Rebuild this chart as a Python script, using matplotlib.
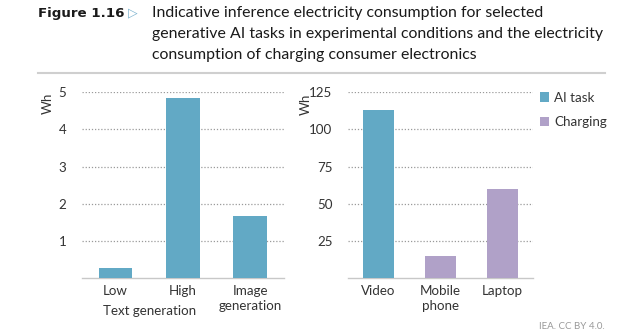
import matplotlib
matplotlib.use("Agg")
import matplotlib.pyplot as plt
from matplotlib.patches import Patch

# ---- data ----
left_categories = ["Low", "High", "Image\ngeneration"]
left_values = [0.28, 4.85, 1.68]
left_series = ["AI task", "AI task", "AI task"]
left_yticks = [1, 2, 3, 4, 5]

right_categories = ["Video", "Mobile\nphone", "Laptop"]
right_values = [113, 15, 60]
right_series = ["AI task", "Charging", "Charging"]
right_yticks = [25, 50, 75, 100, 125]

series_names = ["AI task", "Charging"]
group_label = "Text generation"
unit = "Wh"

COLORS = {"AI task": "#62A9C5", "Charging": "#B0A1C8"}
TEXT = "#333333"
GRID = "#9a9a9a"
FS = 9.6

plt.rcParams["font.family"] = ["Lato", "DejaVu Sans"]

fig = plt.figure(figsize=(6.38, 3.36), dpi=100)
W, H = 638, 336

def ax_rect(x0, x1, ytop, ybot):
    return [x0 / W, 1 - ybot / H, (x1 - x0) / W, (ybot - ytop) / H]

axL = fig.add_axes(ax_rect(81.7, 284, 92, 278.3))
axR = fig.add_axes(ax_rect(347.7, 533.3, 92, 278.3))

def style(ax, cats, vals, series, yticks, ymax):
    x = list(range(len(cats)))
    ax.bar(x, vals, width=0.5, color=[COLORS[s] for s in series], zorder=3)
    ax.set_xlim(-0.5, len(cats) - 0.5)
    ax.set_ylim(0, ymax)
    ax.set_yticks(yticks)
    ax.set_xticks(x)
    ax.set_xticklabels(cats, fontsize=FS, color=TEXT, linespacing=1.3)
    ax.tick_params(axis="y", length=0, pad=11, labelsize=FS, labelcolor=TEXT)
    ax.tick_params(axis="x", length=0, pad=5)
    for sp in ["left", "right", "top"]:
        ax.spines[sp].set_visible(False)
    ax.spines["bottom"].set_color("#c8c8c8")
    ax.spines["bottom"].set_linewidth(1.0)
    ax.yaxis.grid(True, linestyle=(0, (1, 1.5)), color=GRID, linewidth=0.9, zorder=0)
    ax.set_axisbelow(True)

style(axL, left_categories, left_values, left_series, left_yticks, 5)
style(axR, right_categories, right_values, right_series, right_yticks, 125)

# group label under Low/High
axL.text(0.5, -0.178, group_label, transform=axL.get_xaxis_transform(),
         ha="center", va="center", fontsize=FS, color=TEXT)

# unit labels
fig.text(48 / W, 1 - 103 / H, unit, rotation=90, ha="center", va="center",
         fontsize=FS, color=TEXT)
fig.text(306 / W, 1 - 104 / H, unit, rotation=90, ha="center", va="center",
         fontsize=FS, color=TEXT)

# legend
handles = [Patch(facecolor=COLORS[s], edgecolor="none", label=s) for s in series_names]
fig.legend(handles=handles, loc="upper left", bbox_to_anchor=(537 / W, 1 - 89 / H),
           frameon=False, fontsize=FS, handlelength=0.7, handleheight=0.7,
           handletextpad=0.4, labelspacing=0.95, borderaxespad=0, borderpad=0.2,
           labelcolor=TEXT)

# title
fig.text(38 / W, 1 - 13.3 / H, "Figure 1.16", fontsize=9.6, fontweight="bold",
         color="#1a1a1a", ha="left", va="center", family=["DejaVu Sans"])
fig.text(133 / W, 1 - 12.5 / H, "\u25B7", fontsize=9, color="#7DB3CF",
         ha="center", va="center", family=["DejaVu Sans"])
title_lines = [
    "Indicative inference electricity consumption for selected",
    "generative AI tasks in experimental conditions and the electricity",
    "consumption of charging consumer electronics",
]
for i, line in enumerate(title_lines):
    fig.text(152 / W, 1 - (13.3 + 20.8 * i) / H, line, fontsize=11.4,
             color="#1a1a1a", ha="left", va="center")

# separator
fig.add_artist(plt.Line2D([38 / W, 605 / W], [1 - 72.7 / H, 1 - 72.7 / H],
                          color="#cfcfcf", linewidth=1.5))

# source
fig.text(605 / W, 1 - 326.7 / H, "IEA. CC BY 4.0.", fontsize=7, color="#999999",
         ha="right", va="center")

fig.savefig("out.png", dpi=100)
